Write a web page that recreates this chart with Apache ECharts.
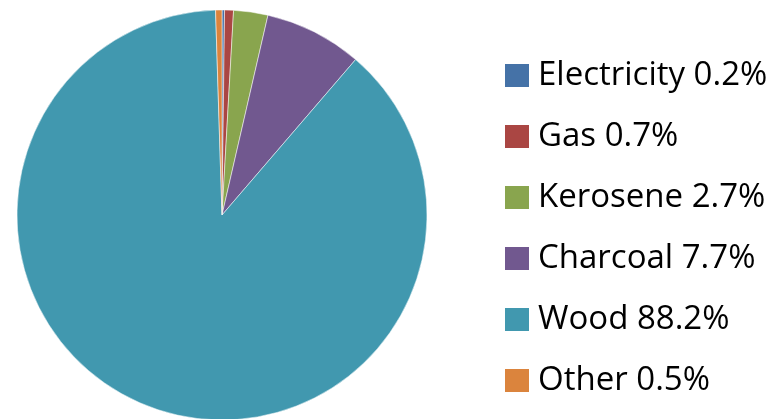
<!DOCTYPE html>
<html>
<head>
<meta charset="UTF-8" />
<script type="text/javascript" src="https://cdn.jsdelivr.net/npm/echarts@6/dist/echarts.min.js"></script>
<title>Fuel use</title>
<style>
	html, body { margin: 0; padding: 0; background: #fff; }
	#main { width: 771px; height: 419px; }
</style>
</head>
<body>
	<div id="main"></div>
<script type="text/javascript">
	// fuel categories and their shares (%)
	var fuels = ['Electricity', 'Gas', 'Kerosene', 'Charcoal', 'Wood', 'Other']
	var shares = [0.2, 0.7, 2.7, 7.7, 88.2, 0.5]
	var colors = ['#4572A7', '#AA4643', '#89A54E', '#71588F', '#4198AF', '#DB843D']

	var pieData = []
	for (var i in fuels) {
		pieData.push({ name : fuels[i], value : shares[i] })
	}

	var myChart = echarts.init(document.getElementById('main'))
	var option = {
		animation : false,
		color : colors,
		legend : {
			orient : 'vertical',
			left : 503,
			top : 59,
			padding : 0,
			itemWidth : 26,
			itemHeight : 25,
			itemGap : 28,
			icon : 'rect',
			formatter : function(name) {
				return name + ' ' + shares[fuels.indexOf(name)] + '%'
			},
			textStyle : {
				fontFamily : 'Open Sans',
				fontSize : 33,
				color : '#000',
				padding : [0, 0, 0, 3]
			},
			data : fuels
		},
		series : [ {
			type : 'pie',
			center : [222, 215],
			radius : 205,
			startAngle : 90,
			clockwise : true,
			label : { show : false },
			labelLine : { show : false },
			emphasis : { disabled : true },
			itemStyle : { borderColor : '#fff', borderWidth : 0.5 },
			data : pieData
		} ]
	}
	myChart.setOption(option)
</script>
</body>
</html>
